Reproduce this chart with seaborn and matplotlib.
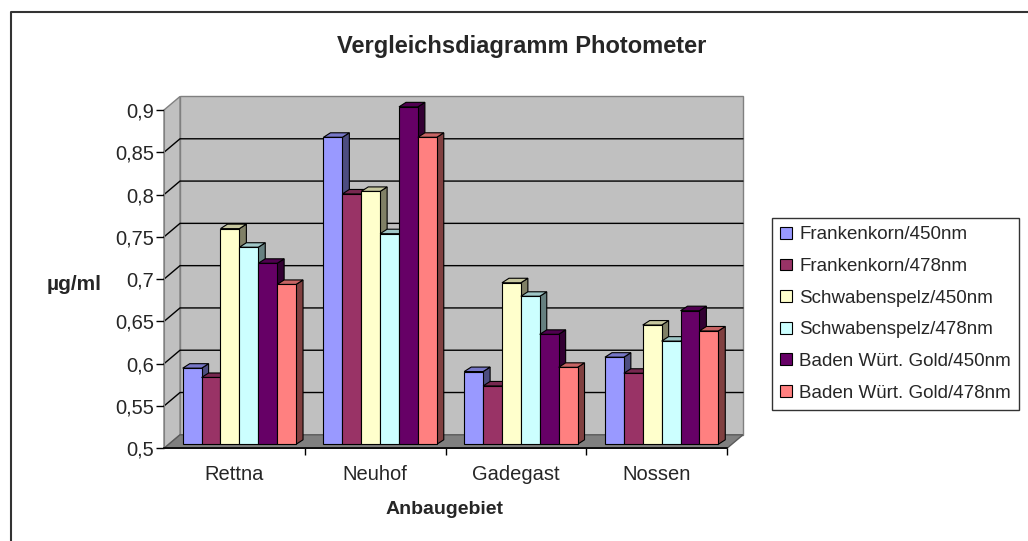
import numpy as np
import pandas as pd
import matplotlib
matplotlib.use('agg')
import matplotlib.pyplot as plt
from matplotlib.patches import Polygon, Rectangle, Patch
from matplotlib.lines import Line2D
import seaborn as sns

# data
regions = ['Rettna', 'Neuhof', 'Gadegast', 'Nossen']
series = ['Frankenkorn/450nm', 'Frankenkorn/478nm', 'Schwabenspelz/450nm',
          'Schwabenspelz/478nm', 'Baden Würt. Gold/450nm', 'Baden Würt. Gold/478nm']
frankenkorn_450 = [0.590, 0.863, 0.586, 0.603]
frankenkorn_478 = [0.579, 0.796, 0.569, 0.584]
schwaben_450 = [0.755, 0.799, 0.691, 0.641]
schwaben_478 = [0.733, 0.749, 0.675, 0.622]
baden_450 = [0.714, 0.899, 0.630, 0.658]
baden_478 = [0.689, 0.863, 0.591, 0.634]
yticks = [0.5, 0.55, 0.6, 0.65, 0.7, 0.75, 0.8, 0.85, 0.9]
ytick_labels = ['0,5', '0,55', '0,6', '0,65', '0,7', '0,75', '0,8', '0,85', '0,9']

colors = ['#9999FF', '#993366', '#FFFFCC', '#CCFFFF', '#660066', '#FF8080']

values = [frankenkorn_450, frankenkorn_478, schwaben_450, schwaben_478, baden_450, baden_478]
df = pd.DataFrame([(r, s, v) for s, vals in zip(series, values) for r, v in zip(regions, vals)],
                  columns=['Anbaugebiet', 'Serie', 'Wert'])

sns.set_style('white')
plt.rcParams['font.family'] = ['Liberation Sans', 'DejaVu Sans']

W, H = 1028, 541
fig = plt.figure(figsize=(W / 100, H / 100), dpi=100)
fig.patch.set_facecolor('white')
# front plane of the 3d box
ax_l, ax_r, ax_top, ax_bot = 164, 727, 110, 448.3
ax = fig.add_axes([ax_l / W, (H - ax_bot) / H, (ax_r - ax_l) / W, (ax_bot - ax_top) / H])
ax.set_facecolor('none')

sns.barplot(data=df, x='Anbaugebiet', y='Wert', hue='Serie', order=regions, hue_order=series,
            palette=colors, saturation=1, width=0.805, edgecolor='black', linewidth=0.8,
            legend=False, ax=ax)
ax.set_xlim(-0.5, 3.5)
ax.set_ylim(0.5, 0.9)

# pixel -> data units
sx = 4.0 / (ax_r - ax_l)
sy = 0.4 / (ax_bot - ax_top)
Dx, Dy = 16 * sx, 13.5 * sy      # wall depth
B0x, B0y = 5 * sx, 4 * sy        # bar front offset
Bx, By = 7 * sx, 4.5 * sy        # bar depth

wall = '#C0C0C0'
wall_edge = '#808080'
# back wall
ax.add_patch(Rectangle((-0.5 + Dx, 0.5 + Dy), 4, 0.4, facecolor=wall, edgecolor=wall_edge,
                       lw=1, zorder=0.5, clip_on=False))
# side wall
ax.add_patch(Polygon([(-0.5, 0.5), (-0.5 + Dx, 0.5 + Dy), (-0.5 + Dx, 0.9 + Dy), (-0.5, 0.9)],
                     closed=True, facecolor=wall, edgecolor=wall_edge, lw=1, zorder=0.5, clip_on=False))
# gridlines across side and back wall
for t in yticks[1:-1]:
    ax.plot([-0.5, -0.5 + Dx, 3.5 + Dx], [t, t + Dy, t + Dy], color='black', lw=1,
            zorder=0.8, clip_on=False)
# floor
ax.add_patch(Polygon([(-0.5, 0.5), (3.5, 0.5), (3.5 + Dx, 0.5 + Dy), (-0.5 + Dx, 0.5 + Dy)],
                     closed=True, facecolor='#808080', edgecolor='#5a5a5a', lw=1, zorder=1,
                     clip_on=False))


def shade(c, f):
    rgb = np.array(matplotlib.colors.to_rgb(c))
    return tuple(rgb * f)


for h, cont in enumerate(ax.containers):
    for p in cont.patches:
        v = p.get_height()
        x0 = p.get_x() + B0x
        w = p.get_width()
        y0 = 0.5 + B0y
        v = v + B0y
        p.set_x(x0)
        p.set_y(y0)
        p.set_height(v - y0)
        p.set_zorder(4 + 2 * h)
        p.set_clip_on(False)
        side = Polygon([(x0 + w, y0), (x0 + w + Bx, y0 + By), (x0 + w + Bx, v + By), (x0 + w, v)],
                       closed=True, facecolor=shade(colors[h], 0.5), edgecolor='black', lw=0.8,
                       zorder=3 + 2 * h, clip_on=False)
        top = Polygon([(x0, v), (x0 + w, v), (x0 + w + Bx, v + By), (x0 + Bx, v + By)],
                      closed=True, facecolor=shade(colors[h], 0.78), edgecolor='black', lw=0.8,
                      zorder=3 + 2 * h, clip_on=False)
        ax.add_patch(side)
        ax.add_patch(top)

for s in ['top', 'right']:
    ax.spines[s].set_visible(False)
ax.spines['left'].set_color(wall_edge)
ax.spines['left'].set_zorder(0.9)
ax.spines['bottom'].set_color('black')
ax.spines['bottom'].set_linewidth(1.2)
ax.spines['bottom'].set_zorder(2)

ax.set_yticks(yticks)
ax.set_yticklabels(ytick_labels)
ax.tick_params(axis='y', left=True, length=6, width=1, color='black', pad=1, labelsize=14.5)
ax.set_xticks(range(len(regions)))
ax.set_xticklabels(regions)
ax.set_xticks([0.5, 1.5, 2.5, 3.5], minor=True)
ax.tick_params(axis='x', which='major', length=0, pad=12, labelsize=14.5)
ax.tick_params(axis='x', which='minor', bottom=True, length=5, width=1, color='black')
ax.set_xlabel('')
ax.set_ylabel('')

fig.text(522 / W, 1 - 47 / H, 'Vergleichsdiagramm Photometer', ha='center', va='center',
         fontsize=17, fontweight='bold')
fig.text(74 / W, 1 - 284 / H, 'µg/ml', ha='center', va='center', fontsize=15, fontweight='bold')
fig.text(445 / W, 1 - 510 / H, 'Anbaugebiet', ha='center', va='center', fontsize=14,
         fontweight='bold')

handles = [Patch(facecolor=c, edgecolor='black', lw=0.8) for c in colors]
leg = fig.legend(handles, series, loc='upper left', bbox_to_anchor=(772 / W, 1 - 218 / H),
                 bbox_transform=fig.transFigure, frameon=True, fancybox=False, edgecolor='black',
                 fontsize=13.5, handlelength=0.6, handleheight=0.6, handletextpad=0.4,
                 labelspacing=0.78, borderpad=0.45, borderaxespad=0)
leg.get_frame().set_linewidth(1)

# outer chart border (only top and left are inside the picture)
fig.add_artist(Line2D([11 / W, 11 / W, 1.0], [0.0, 1 - 12 / H, 1 - 12 / H],
                      transform=fig.transFigure, color='#333333', lw=1.5))

fig.savefig('out.png', dpi=100)
